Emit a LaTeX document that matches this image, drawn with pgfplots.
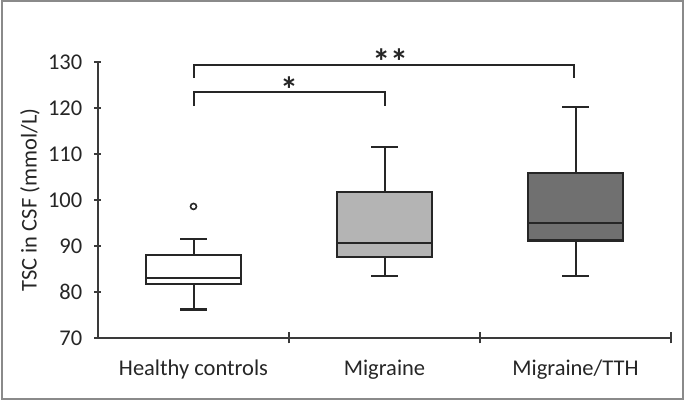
\documentclass[border=0pt]{standalone}
\usepackage{fontspec}
\setmainfont{Carlito}
\usepackage{pgfplots}
\pgfplotsset{compat=1.18}

\definecolor{boxline}{HTML}{262626}
\definecolor{axline}{HTML}{3A3A3A}
\definecolor{midgray}{HTML}{B4B4B4}
\definecolor{darkgray}{HTML}{707070}
\definecolor{frame}{HTML}{8A8A8A}

% box: #1 centre, #2 lower whisker, #3 Q1, #4 median, #5 Q3, #6 upper whisker, #7 fill
\newcommand{\tscbox}[7]{%
  \addplot[boxline, line width=2pt, mark=none] coordinates {(#1,#5) (#1,#6)};
  \addplot[boxline, line width=2pt, mark=none] coordinates {(#1,#2) (#1,#3)};
  \addplot[boxline, line width=2.2pt, mark=none] coordinates {(#1-0.07,#6) (#1+0.07,#6)};
  \addplot[boxline, line width=2.2pt, mark=none] coordinates {(#1-0.07,#2) (#1+0.07,#2)};
  \addplot[draw=boxline, fill=#7, line width=2.2pt, mark=none] coordinates {
    (#1-0.25,#3) (#1+0.25,#3) (#1+0.25,#5) (#1-0.25,#5) (#1-0.25,#3)} -- cycle;
  \addplot[boxline, line width=2pt, mark=none] coordinates {(#1-0.25,#4) (#1+0.25,#4)};
}

\begin{document}
\begin{tikzpicture}
\begin{axis}[
  at={(0,0)}, anchor=south west,
  scale only axis, width=573pt, height=276pt,
  xmin=0, xmax=3, ymin=70, ymax=130,
  axis lines=left, axis line style={-, axline, line width=1.3pt},
  clip=false,
  font=\fontsize{22.5}{26}\selectfont,
  tick label style={font=\fontsize{22.5}{26}\selectfont, text=black!85},
  /pgf/number format/assume math mode=true,
  ytick={70,80,...,130},
  xtick={0.5,1.5,2.5},
  xticklabels={Healthy controls, Migraine, Migraine/TTH},
  major x tick style={draw=none},
  minor xtick={1,2,3},
  tick align=center,
  major tick length=7pt, minor tick length=11pt,
  every tick/.style={axline, line width=1.3pt},
  every minor tick/.style={axline, line width=1.3pt},
  yticklabel style={anchor=east, inner sep=0pt, xshift=-12pt},
  xticklabel style={anchor=base, inner sep=0pt, yshift=-34pt},
]
\tscbox{0.5}{76.2}{81.7}{83.0}{88.0}{91.5}{white}
\tscbox{1.5}{83.5}{87.6}{90.7}{101.8}{111.5}{midgray}
\tscbox{2.5}{83.5}{91.2}{95.1}{105.9}{120.2}{darkgray}

% outlier
\addplot[only marks, mark=o, mark size=3pt, boxline,
  mark options={line width=1.6pt, fill=white}] coordinates {(0.5,98.6)};

% significance brackets
\addplot[boxline, line width=2pt, mark=none] coordinates {
(0.5,120.4) (0.5,123.5) (1.5,123.5) (1.5,120.4)
};
\addplot[boxline, line width=2pt, mark=none] coordinates {
(0.5,126.5) (0.5,129.3) (2.49,129.3) (2.49,126.5)
};
\node[font=\fontsize{36}{38}\selectfont\bfseries, text=boxline, anchor=center]
  at (axis cs:1.0,124.0) {*};
\node[font=\fontsize{36}{38}\selectfont\bfseries, text=boxline, anchor=center]
  at (axis cs:1.53,130.0) {**};
\end{axis}

\begin{scope}
\node[rotate=90, font=\fontsize{22.5}{26}\selectfont, text=black!85]
  at (-68pt,138pt) {TSC in CSF (mmol/L)};
\draw[frame, line width=2pt] (-96pt,-61.5pt) rectangle (585pt,336.5pt);
\path[use as bounding box] (-98pt,-63pt) rectangle (587pt,338pt);
\end{scope}
\end{tikzpicture}
\end{document}
